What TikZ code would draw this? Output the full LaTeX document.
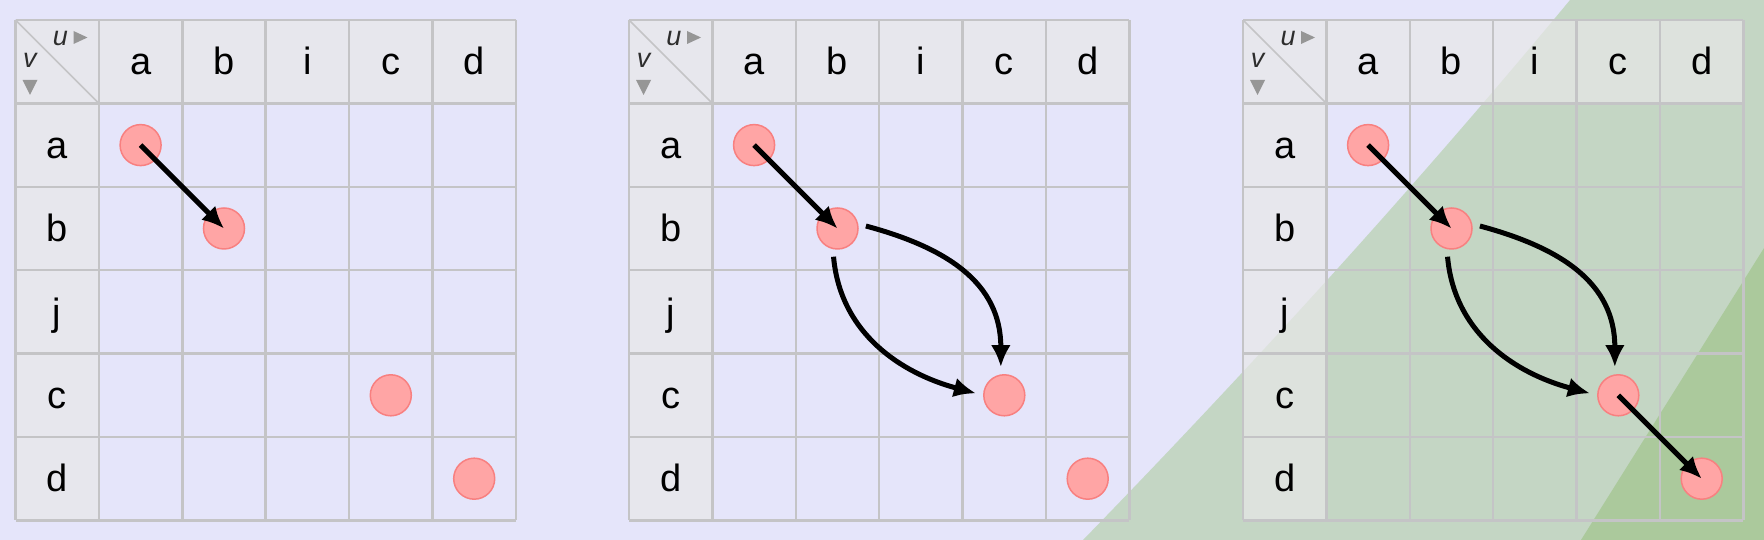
\documentclass[tikz,border=0pt]{standalone}
\usepackage{fontspec}
\setmainfont{Liberation Sans}
\usetikzlibrary{arrows.meta,calc}
\definecolor{bg}{RGB}{229,229,250}
\definecolor{lgreen}{RGB}{196,214,196}
\definecolor{dgreen}{RGB}{171,201,156}
\definecolor{gridc}{RGB}{196,196,198}
\definecolor{hdr}{RGB}{232,232,232}
\definecolor{dotfill}{RGB}{255,165,165}
\definecolor{dotline}{RGB}{248,128,128}
\definecolor{markc}{RGB}{150,150,150}
\definecolor{uvtext}{RGB}{45,45,45}
\tikzset{
  dot/.style={circle, fill=dotfill, draw=dotline, line width=1.5pt, minimum size=41pt, inner sep=0pt, outer sep=8pt},
  arr/.style={line width=5pt, -{Latex[length=22pt,width=20pt]}},
  hdrcell/.style={fill=hdr, fill opacity=0.7},
  gridline/.style={draw=gridc, line width=2.5pt},
  lbl/.style={font=\fontsize{38}{38}\selectfont, inner sep=0pt, anchor=base},
  uv/.style={font=\fontsize{27}{27}\selectfont\itshape, text=uvtext, inner sep=0pt},
  tri/.style={fill=markc, draw=none},
}
\newcommand{\drawtable}[2]{%
  \begin{scope}[shift={(#1,520)}]
    \fill[hdrcell] (0,0) rectangle (500.4,-83.4);
    \fill[hdrcell] (0,-83.4) rectangle (83.4,-500.4);
    \foreach \i in {0,...,6} {
      \draw[gridline] (\i*83.4,0) -- (\i*83.4,-500.4);
      \draw[gridline] (0,-\i*83.4) -- (500.4,-\i*83.4);
    }
    \draw[gridc, line width=1.5pt] (0,0) -- (83.4,-83.4);
    \foreach \t [count=\k] in {a,b,i,c,d}
      \node[lbl] (#2h\k) at (\k*83.4+41.7,-54.5) {\t};
    \foreach \t [count=\k] in {a,b,j,c,d}
      \node[lbl] (#2r\k) at (41.7,-\k*83.4-55) {\t};
    \node[uv] (#2u) at (45,-18.5) {u};
    \node[uv] (#2v) at (14.5,-40.5) {v};
    \fill[tri] (58,-11) -- (58,-24) -- (72,-17.5) -- cycle;
    \fill[tri] (7,-60) -- (22,-60) -- (14.5,-75) -- cycle;
    \node[dot] (#2a) at (1.5*83.4,-1.5*83.4) {};
    \node[dot] (#2b) at (2.5*83.4,-2.5*83.4) {};
    \node[dot] (#2c) at (4.5*83.4,-4.5*83.4) {};
    \node[dot] (#2d) at (5.5*83.4,-5.5*83.4) {};
  \end{scope}%
}
\begin{document}
\begin{tikzpicture}[x=1pt,y=1pt]
  \useasboundingbox (0,0) rectangle (1764,540);
  \fill[bg] (0,0) rectangle (1764,540);
  \fill[lgreen] (1083,0) .. controls (1258,180) and (1421,360) .. (1570,540) -- (1764,540) -- (1764,0) -- cycle;
  \fill[dgreen] (1581,0) -- (1764,292) -- (1764,0) -- cycle;
  \drawtable{15.5}{A}
  \drawtable{629}{B}
  \drawtable{1243}{C}
  % table 1
  \draw[arr] (Aa.center) -- (Ab.center);
  % table 2
  \draw[arr] (Ba.center) -- (Bb.center);
  \draw[arr] (Bb.5) to[out=-15,in=90,looseness=1.1] (Bc.97);
  \draw[arr] (Bb.-98) to[out=-85,in=165] (Bc.176);
  % table 3
  \draw[arr] (Ca.center) -- (Cb.center);
  \draw[arr] (Cb.5) to[out=-15,in=90,looseness=1.1] (Cc.97);
  \draw[arr] (Cb.-98) to[out=-85,in=165] (Cc.176);
  \draw[arr] (Cc.center) -- (Cd.center);
\end{tikzpicture}
\end{document}
